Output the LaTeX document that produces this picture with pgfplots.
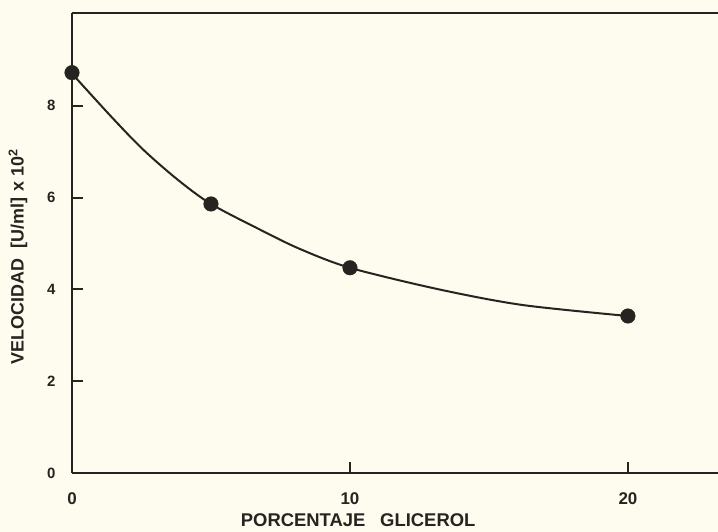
\documentclass[border=0pt]{standalone}
\usepackage{fontspec}
\setmainfont{Liberation Sans}
\usepackage{pgfplots}
\pgfplotsset{compat=1.18}

\definecolor{paper}{RGB}{253,252,238}
\definecolor{ink}{RGB}{38,36,32}

\begin{document}
\begin{tikzpicture}
% paper background and fixed page size
\fill[paper] (-72bp,-59bp) rectangle (646bp,473bp);
\path[use as bounding box] (-72bp,-59bp) rectangle (646bp,473bp);
\begin{axis}[
  scale only axis,
  width=646bp, height=460bp,
  xmin=0, xmax=23.24,
  ymin=0, ymax=10.02,
  axis x line*=bottom,
  axis y line*=left,
  axis line style={-, line width=2.2bp, ink},
  tick align=inside,
  xtick={10,20},
  extra x ticks={0},
  extra x tick style={major tick length=0pt},
  ytick={0,2,4,6,8},
  major tick length=11bp,
  tick style={line width=2bp, ink},
  /pgf/number format/assume math mode=true,
  ticklabel style={text=ink},
  xticklabel style={yshift=-16bp, font=\fontsize{17}{20}\selectfont\bfseries},
  yticklabel style={xshift=-13bp, font=\fontsize{15}{18}\selectfont\bfseries},
  xlabel={PORCENTAJE\hspace{0.8em}GLICEROL},
  ylabel={VELOCIDAD\hspace{0.6em}[U/ml]\hspace{0.3em}x\hspace{0.3em}10\textsuperscript{2}},
  every axis x label/.style={at={(axis description cs:0.443,-0.102)}, anchor=center,
    font=\fontsize{18.5}{22}\selectfont\bfseries, text=ink},
  every axis y label/.style={at={(axis description cs:-0.0836,0.47)}, anchor=center, rotate=90,
    font=\fontsize{18}{22}\selectfont\bfseries, text=ink},
  clip=false,
]
% fitted curve
\addplot[ink, line width=2bp, smooth, no markers]
  coordinates {(0,8.70) (1.4,7.77) (2.55,7.05) (3.8,6.39) (5,5.86) (6.8,5.29)
               (8.2,4.88) (10,4.47) (13.2,4.00) (16.2,3.66) (20,3.42)};
% measured values
\addplot[only marks, mark=*, mark size=7.3bp, mark options={fill=ink, draw=ink}]
  coordinates {(0,8.72) (5,5.86) (10,4.47) (20,3.42)};
\draw[ink, line width=2.2bp] (rel axis cs:0,1) -- (rel axis cs:1,1);
\end{axis}
\end{tikzpicture}
\end{document}
